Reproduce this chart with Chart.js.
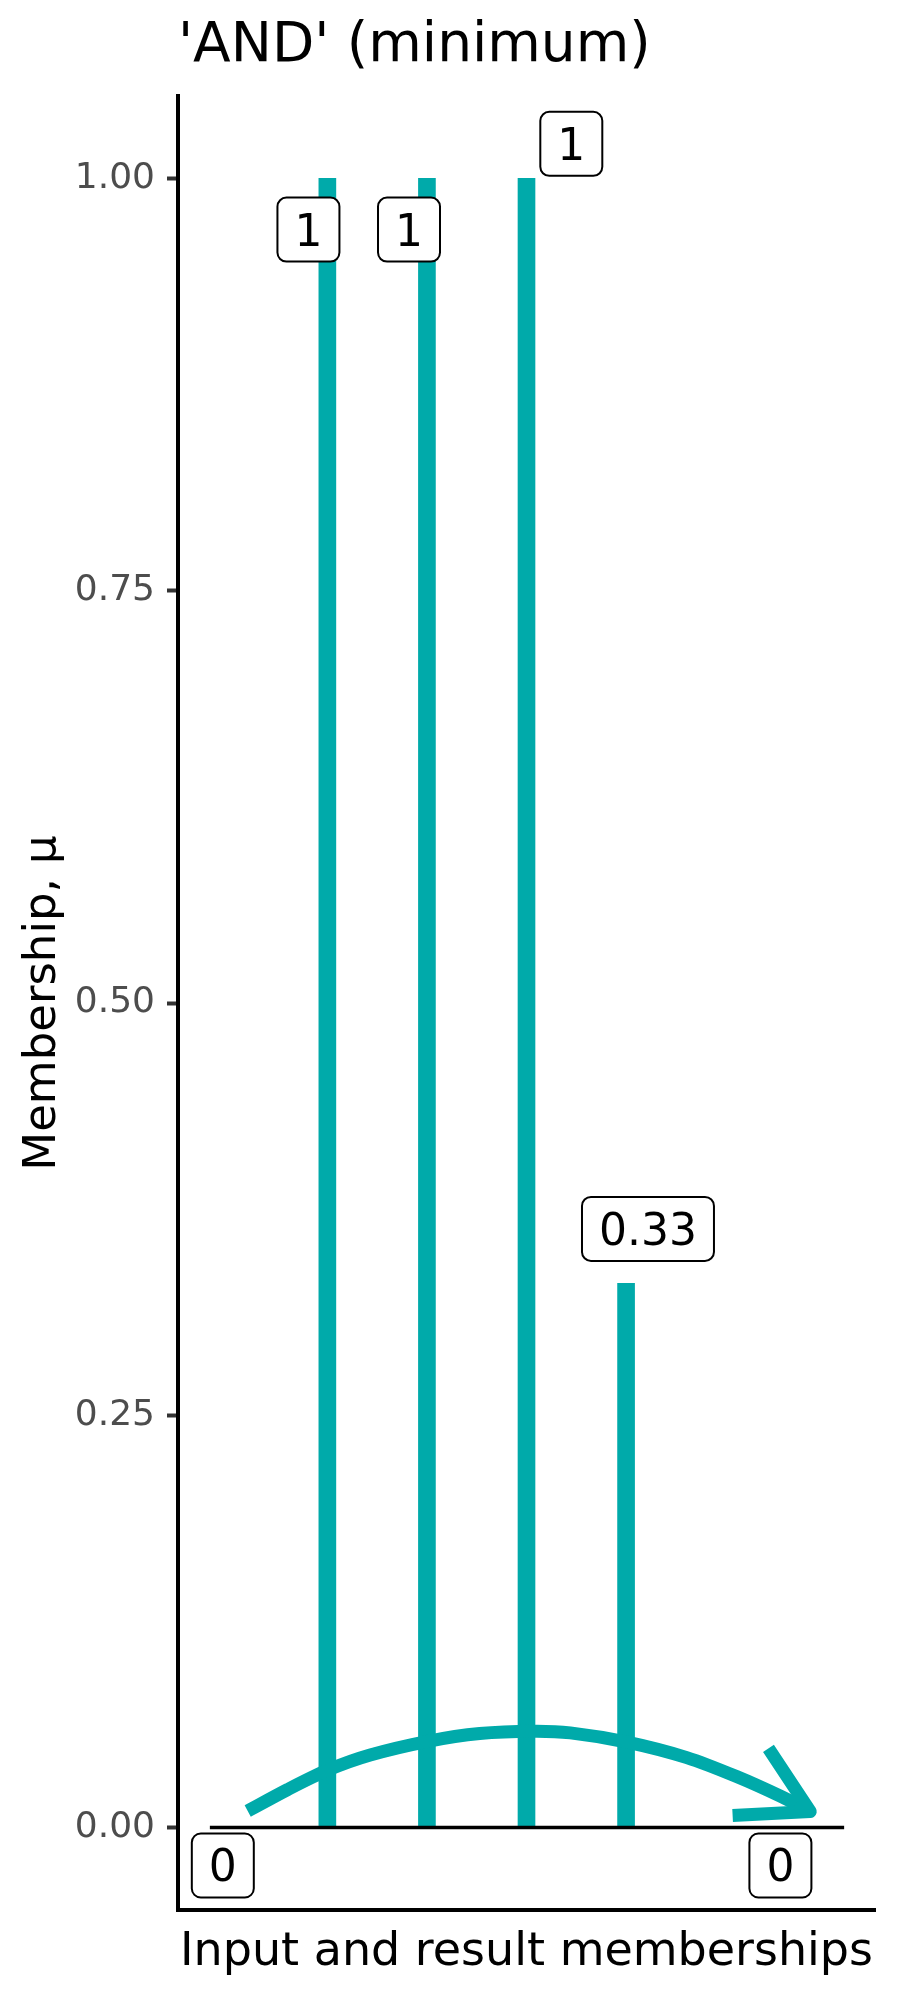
<!DOCTYPE html>
<html>
<head>
<meta charset="utf-8">
<script src="https://cdn.jsdelivr.net/npm/chart.js@4"></script>
<style>
  body { margin: 0; background: #fff; }
  #wrap { width: 900px; height: 2000px; }
</style>
</head>
<body>
<div id="wrap"><canvas id="andChart"></canvas></div>
<script>
// memberships shown as bars
const barX = [1, 2, 3, 4];
const barValues = [1, 1, 1, 0.33];

// boxed value labels
const labelText = ["1", "1", "1", "0.33", "0", "0"];
const labelX = [0.81, 1.82, 3.45, 4.22, -0.05, 5.55];
const labelY = [0.969, 0.969, 1.021, 0.363, -0.023, -0.023];

// zero baseline segment
const baseX = [-0.18, 6.19];
const baseY = [0, 0];

// curved arrow, points
const curveX = [0.20, 0.60, 1.01, 1.43, 2.01, 2.53, 3.07, 3.44, 4.01, 4.61, 5.11, 5.55, 5.85];
const curveY = [0.010, 0.023, 0.035, 0.044, 0.0523, 0.057, 0.0584, 0.0574, 0.0518, 0.0424, 0.0309, 0.019, 0.0097];
const headX = [5.43, 5.85, 5.07];
const headY = [0.048, 0.0097, 0.0073];

const yTicks = [0, 0.25, 0.5, 0.75, 1];

const teal = "#00AAAA";
const font = "'DejaVu Sans', sans-serif";

const pts = (xs, ys) => xs.map((x, i) => ({ x: x, y: ys[i] }));

// draws the rounded label boxes on top
const boxLabels = {
  id: "boxLabels",
  afterDatasetsDraw(chart) {
    const { ctx, scales: { x, y } } = chart;
    const fs = 44, padX = 17, h = 64;
    ctx.save();
    ctx.font = fs + "px " + font;
    labelText.forEach((t, i) => {
      const cx = x.getPixelForValue(labelX[i]);
      const cy = y.getPixelForValue(labelY[i]);
      const w = ctx.measureText(t).width + padX * 2;
      ctx.beginPath();
      ctx.roundRect(cx - w / 2, cy - h / 2, w, h, 9);
      ctx.fillStyle = "#fff";
      ctx.fill();
      ctx.lineWidth = 2;
      ctx.strokeStyle = "#000";
      ctx.stroke();
      ctx.fillStyle = "#000";
      ctx.textAlign = "center";
      ctx.textBaseline = "alphabetic";
      ctx.fillText(t, cx, cy + fs * 0.364);
    });
    ctx.restore();
  }
};

new Chart(document.getElementById("andChart"), {
  type: "bar",
  data: {
    datasets: [
      {
        type: "line",
        data: pts(headX, headY),
        borderColor: teal,
        borderWidth: 13,
        borderJoinStyle: "round",
        borderCapStyle: "butt",
        pointRadius: 0,
        fill: false,
        order: 0
      },
      {
        type: "line",
        data: pts(curveX, curveY),
        borderColor: teal,
        borderWidth: 13,
        borderCapStyle: "butt",
        tension: 0.3,
        pointRadius: 0,
        fill: false,
        order: 1
      },
      {
        type: "line",
        data: pts(baseX, baseY),
        borderColor: "#000",
        borderWidth: 3.5,
        pointRadius: 0,
        fill: false,
        order: 2
      },
      {
        data: pts(barX, barValues),
        backgroundColor: teal,
        borderWidth: 0,
        barThickness: 17,
        order: 3
      }
    ]
  },
  options: {
    responsive: true,
    maintainAspectRatio: false,
    animation: false,
    events: [],
    layout: { padding: { left: 0, right: 25, top: 0, bottom: 0 } },
    plugins: {
      legend: { display: false },
      tooltip: { enabled: false },
      title: {
        display: true,
        text: "'AND' (minimum)",
        align: "start",
        fullSize: false,
        color: "#000",
        font: { family: font, size: 55, weight: "normal", lineHeight: 1.2 },
        padding: { top: 14, bottom: 16 }
      }
    },
    scales: {
      x: {
        type: "linear",
        min: -0.5,
        max: 6.5,
        offset: false,
        ticks: { display: false },
        grid: { display: false },
        border: { display: true, color: "#000", width: 4 },
        title: {
          display: true,
          text: "Input and result memberships",
          color: "#000",
          font: { family: font, size: 46, lineHeight: 1.2 },
          padding: { top: 0, bottom: 19 }
        },
        afterFit: s => { s.height = 90; }
      },
      y: {
        min: -0.05,
        max: 1.05,
        afterBuildTicks: s => { s.ticks = yTicks.map(v => ({ value: v })); },
        ticks: {
          color: "#4d4d4d",
          font: { family: font, size: 36 },
          padding: 12,
          callback: v => Number(v).toFixed(2)
        },
        grid: { drawOnChartArea: false, tickLength: 11, tickColor: "#333", tickWidth: 4 },
        border: { display: true, color: "#000", width: 4 },
        title: {
          display: true,
          text: "Membership, μ",
          color: "#000",
          font: { family: font, size: 45, lineHeight: 1.2 },
          padding: { top: 16, bottom: 0 }
        },
        afterFit: s => { s.width = 178; }
      }
    }
  },
  plugins: [boxLabels]
});
</script>
</body>
</html>
